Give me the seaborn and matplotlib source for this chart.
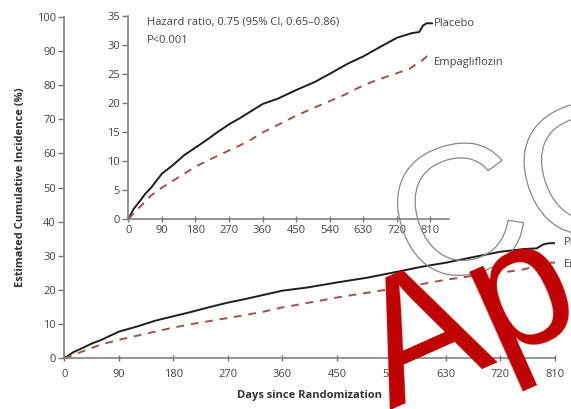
import matplotlib
matplotlib.use("Agg")
import matplotlib.pyplot as plt
import pandas as pd
import seaborn as sns
from matplotlib.textpath import TextPath
from matplotlib.patches import PathPatch
from matplotlib.font_manager import FontProperties
from matplotlib.transforms import Affine2D, IdentityTransform

# values (days, cumulative incidence %)
placebo_days = [0, 15, 30, 45, 60, 90, 120, 150, 180, 210, 240, 270, 300, 330, 360,
                400, 450, 500, 540, 590, 630, 680, 720, 760, 780, 790, 800, 815]
placebo_pct = [0, 1.8, 3.0, 4.3, 5.3, 7.8, 9.3, 11.0, 12.3, 13.6, 15.0, 16.3, 17.4, 18.6, 19.8,
               20.7, 22.2, 23.6, 25.0, 26.8, 28.0, 29.8, 31.2, 32.0, 32.2, 33.3, 33.7, 33.7]
empa_days = [0, 15, 30, 60, 90, 120, 150, 180, 210, 240, 270, 300, 330, 360,
             420, 450, 500, 540, 580, 630, 665, 720, 755, 775, 790, 800, 815]
empa_pct = [0, 1.0, 2.0, 4.0, 5.4, 6.6, 7.8, 9.0, 10.0, 10.9, 11.8, 12.7, 13.7, 14.9,
            16.8, 17.8, 19.2, 20.3, 21.4, 23.0, 23.9, 25.1, 25.9, 26.8, 27.4, 28.0, 28.0]
day_ticks = [0, 90, 180, 270, 360, 450, 540, 630, 720, 810]
main_yticks = list(range(0, 101, 10))
inset_yticks = list(range(0, 36, 5))

df = pd.concat([
    pd.DataFrame({"day": placebo_days, "pct": placebo_pct, "grp": "Placebo"}),
    pd.DataFrame({"day": empa_days, "pct": empa_pct, "grp": "Empagliflozin"}),
])

sns.set_style("ticks")
plt.rcParams["font.family"] = ["Open Sans", "DejaVu Sans"]
grey = "#777777"
txt = "#444444"
fs = 8
pal = {"Placebo": "#1e1e1e", "Empagliflozin": "#a5504c"}

fig = plt.figure(figsize=(5.71, 4.09), dpi=100)
ax = fig.add_axes([0.1126, 0.124, 0.8594, 0.835])
ins = fig.add_axes([0.2247, 0.4645, 0.5617, 0.497])


def draw(a, xpad):
    for g in ["Placebo", "Empagliflozin"]:
        sub = df[df.grp == g]
        sns.lineplot(data=sub, x="day", y="pct", ax=a, color=pal[g], lw=1.4,
                     linestyle="-" if g == "Placebo" else (0, (4, 3.5)),
                     estimator=None, sort=False, legend=False)
    sns.despine(ax=a)
    for s in ["left", "bottom"]:
        a.spines[s].set_color(grey)
        a.spines[s].set_linewidth(1.1)
    a.tick_params(axis="y", direction="out", length=4, width=1, color=grey,
                  labelsize=fs, labelcolor=txt, pad=2)
    a.tick_params(axis="x", direction="inout", length=5, width=1, color=grey,
                  labelsize=fs, labelcolor=txt, pad=xpad)
    a.set_xticks(day_ticks)
    a.set_xlabel("")
    a.set_ylabel("")
    a.patch.set_alpha(0)


draw(ax, 5.5)
ax.set_xlim(0, 810)
ax.set_ylim(0, 100)
ax.set_yticks(main_yticks)
ax.set_xlabel("Days since Randomization", fontsize=fs, fontweight="bold", color="#333333", labelpad=7)
ax.set_ylabel("Estimated Cumulative Incidence (%)", fontsize=fs, fontweight="bold",
              color="#333333", labelpad=8)
ax.text(825, 33.8, "Placebo", fontsize=fs, color=txt, va="center", clip_on=False)
ax.text(825, 27.6, "Empagliflozin", fontsize=fs, color=txt, va="center", clip_on=False)

draw(ins, 2)
ins.set_xlim(0, 860)
ins.set_ylim(0, 35)
ins.set_yticks(inset_yticks)
ins.set_facecolor("white")
ins.patch.set_alpha(1)
ins.text(820, 33.6, "Placebo", fontsize=fs, color=txt, va="center", clip_on=False)
ins.text(820, 26.9, "Empagliflozin", fontsize=fs, color=txt, va="center", clip_on=False)
ins.text(50, 33.9, "Hazard ratio, 0.75 (95% CI, 0.65\u20130.86)", fontsize=fs, color=txt, va="center")
ins.text(50, 30.8, "P<0.001", fontsize=fs, color=txt, va="center")

# watermark overlay
fp = FontProperties(family="Liberation Sans")
co = TextPath((0, 0), "CO", size=185, prop=fp)
tr = Affine2D().rotate_deg(18).translate(413, 409 - 292) + IdentityTransform()
fig.add_artist(PathPatch(co, transform=tr, facecolor="none", edgecolor="#888888", lw=0.9, zorder=5))
fig.text(390 / 571, 1 - 410 / 409, "Ap", fontsize=128, color="#c00000", family="Liberation Sans",
         rotation=24, rotation_mode="anchor", ha="left", va="baseline", zorder=6)

fig.savefig("out.png", dpi=100)
